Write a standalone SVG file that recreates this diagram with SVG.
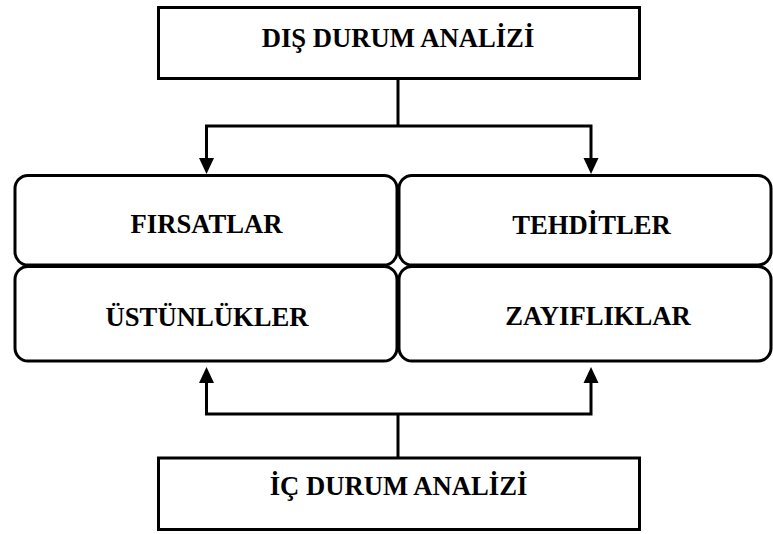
<svg xmlns="http://www.w3.org/2000/svg" width="773" height="534" viewBox="0 0 773 534">
<style>
.box{fill:#fff;stroke:#000;stroke-width:3}
.lbl{font-family:"Liberation Serif","Times New Roman",serif;font-weight:bold;font-size:26.67px;fill:#000;text-anchor:middle}
.ln{fill:none;stroke:#000;stroke-width:3;stroke-linejoin:miter;stroke-linecap:butt}
.ah{fill:#000;stroke:none}
</style>
<rect width="773" height="534" fill="#fff"/>
<g id="connectors">
<path class="ln" d="M398,79 V126 M206.5,159 V126 H591 V159"/>
<polygon class="ah" points="199,158 214,158 206.5,174"/>
<polygon class="ah" points="583.5,158 598.5,158 591,174"/>
<path class="ln" d="M398,457 V414 M206.5,382 V414 H591 V382"/>
<polygon class="ah" points="199,383 214,383 206.5,367"/>
<polygon class="ah" points="583.5,383 598.5,383 591,367"/>
</g>
<g id="dis-durum">
<rect class="box" x="158.5" y="7.5" width="481" height="71"/>
<text class="lbl" x="398" y="47">DIŞ DURUM ANALİZİ</text>
</g>
<g id="firsatlar">
<rect class="box" x="15" y="175.5" width="382" height="89.5" rx="13"/>
<text class="lbl" x="206.5" y="233">FIRSATLAR</text>
</g>
<g id="tehditler">
<rect class="box" x="399" y="175.5" width="372" height="89.5" rx="13"/>
<text class="lbl" x="591.5" y="234">TEHDİTLER</text>
</g>
<g id="ustunlukler">
<rect class="box" x="15" y="266.5" width="382" height="94.5" rx="13"/>
<text class="lbl" x="207" y="325.5">ÜSTÜNLÜKLER</text>
</g>
<g id="zayifliklar">
<rect class="box" x="399" y="266.5" width="372" height="94.5" rx="13"/>
<text class="lbl" x="598" y="325">ZAYIFLIKLAR</text>
</g>
<g id="ic-durum">
<rect class="box" x="158.5" y="458" width="481" height="71.5"/>
<text class="lbl" x="398.5" y="495">İÇ DURUM ANALİZİ</text>
</g>
</svg>
